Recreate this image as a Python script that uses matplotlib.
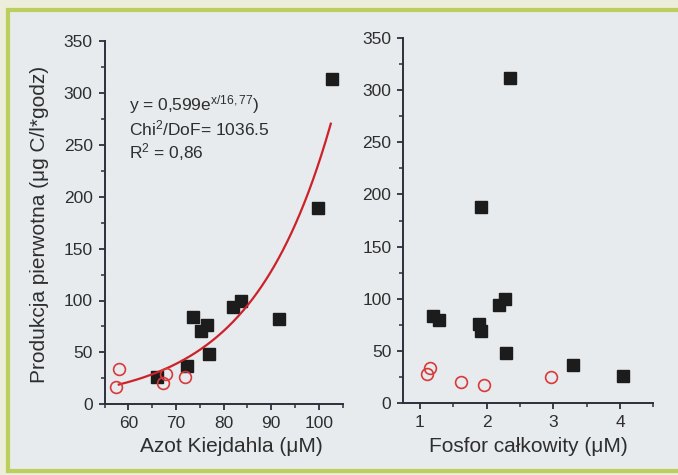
import numpy as np
import matplotlib
matplotlib.use("Agg")
import matplotlib.pyplot as plt
from matplotlib.patches import Rectangle
from matplotlib.ticker import MultipleLocator

plt.rcParams['font.family'] = ['Liberation Sans', 'DejaVu Sans']
plt.rcParams['mathtext.fontset'] = 'custom'
plt.rcParams['mathtext.rm'] = 'Liberation Sans'
plt.rcParams['mathtext.it'] = 'Liberation Sans:italic'

# ---- data ----
n_black = [73.5, 76.6, 75.3, 77.0, 72.4, 66.0, 82.0, 83.6, 91.7, 102.7, 99.8]
p_black_n = [84, 76, 71, 48, 37, 26, 94, 100, 82, 313, 189]
n_red = [58.1, 57.4, 67.2, 68.0, 72.0]
p_red_n = [34, 17, 21, 29, 26]

ph_black = [2.35, 1.92, 1.19, 1.28, 1.88, 1.91, 2.18, 2.28, 2.29, 3.29, 4.04]
p_black_p = [312, 188, 83, 80, 76, 69, 94, 100, 48, 36, 26]
ph_red = [1.11, 1.15, 1.62, 1.96, 2.96]
p_red_p = [28, 34, 20, 17, 25]

fit_a = 0.599
fit_b = 16.77
fit_range = [58.0, 102.5]

ylabel = "Produkcja pierwotna (μg C/l*godz)"
xlabel_n = "Azot Kiejdahla (μM)"
xlabel_p = "Fosfor całkowity (μM)"

W, H = 678, 475
fig = plt.figure(figsize=(W / 100, H / 100), dpi=100)
fig.patch.set_facecolor('#ecedda')

# framed inner panel
fig.patches.append(Rectangle((7.5 / W, 1 - 471 / H), 1.2, (471 - 10) / H,
                             transform=fig.transFigure, facecolor='#e7ebee',
                             edgecolor='#bccf5c', linewidth=3, zorder=-10))

spine_col = '#2e2e3e'
text_col = '#2e2e2e'


def style(ax):
    ax.set_facecolor('none')
    for s in ['top', 'right']:
        ax.spines[s].set_visible(False)
    for s in ['left', 'bottom']:
        ax.spines[s].set_color(spine_col)
        ax.spines[s].set_linewidth(1.4)
    ax.tick_params(which='major', direction='out', length=4.5, width=1.3,
                   color=spine_col, labelsize=12.5, labelcolor=text_col, pad=4)
    ax.tick_params(which='minor', direction='out', length=2.6, width=1.1,
                   color=spine_col)
    ax.set_ylim(0, 350)
    ax.yaxis.set_major_locator(MultipleLocator(50))
    ax.yaxis.set_minor_locator(MultipleLocator(25))


ax1 = fig.add_axes([104.5 / W, 1 - 404.3 / H, (342.7 - 104.5) / W, (404.3 - 41) / H])
style(ax1)
ax1.set_xlim(55, 105)
ax1.xaxis.set_major_locator(MultipleLocator(10))
ax1.xaxis.set_minor_locator(MultipleLocator(5))

xf = np.linspace(fit_range[0], fit_range[1], 200)
ax1.plot(xf, fit_a * np.exp(xf / fit_b), color='#cc2229', lw=1.6, zorder=3)
ax1.plot(n_black, p_black_n, 's', color='#1c1c1c', ms=9.3, zorder=2)
ax1.plot(n_red, p_red_n, 'o', mfc='none', mec='#d8393a', mew=1.2, ms=8.5, zorder=4)
ax1.set_xlabel(xlabel_n, fontsize=15, color=text_col, va='center')
ax1.xaxis.set_label_coords((231 - 104.5) / 238.2, (404.3 - 446) / 363.3)
ax1.set_ylabel(ylabel, fontsize=15, color=text_col, va='center')
ax1.yaxis.set_label_coords((40 - 104.5) / 238.2, (404.3 - 224) / 363.3)

tk = dict(transform=ax1.transData, fontsize=12.5, color=text_col, va='center', ha='left')
ax1.text(60.2, 289, r"y = 0,599e$^{\mathrm{x/16,77}}$)", **tk)
ax1.text(60.2, 266, r"Chi$^{\mathrm{2}}$/DoF= 1036.5", **tk)
ax1.text(60.2, 243, r"R$^{\mathrm{2}}$ = 0,86", **tk)

ax2 = fig.add_axes([403.3 / W, 1 - 403 / H, (653.3 - 403.3) / W, (403 - 38) / H])
style(ax2)
ax2.set_xlim(0.75, 4.5)
ax2.xaxis.set_major_locator(MultipleLocator(1))
ax2.xaxis.set_minor_locator(MultipleLocator(0.5))
ax2.plot(ph_black, p_black_p, 's', color='#1c1c1c', ms=9.3, zorder=2)
ax2.plot(ph_red, p_red_p, 'o', mfc='none', mec='#d8393a', mew=1.2, ms=8.5, zorder=4)
ax2.set_xlabel(xlabel_p, fontsize=15, color=text_col, va='center')
ax2.xaxis.set_label_coords(0.5, (403 - 446) / 365)

fig.savefig("out.png", dpi=100, facecolor=fig.get_facecolor())
